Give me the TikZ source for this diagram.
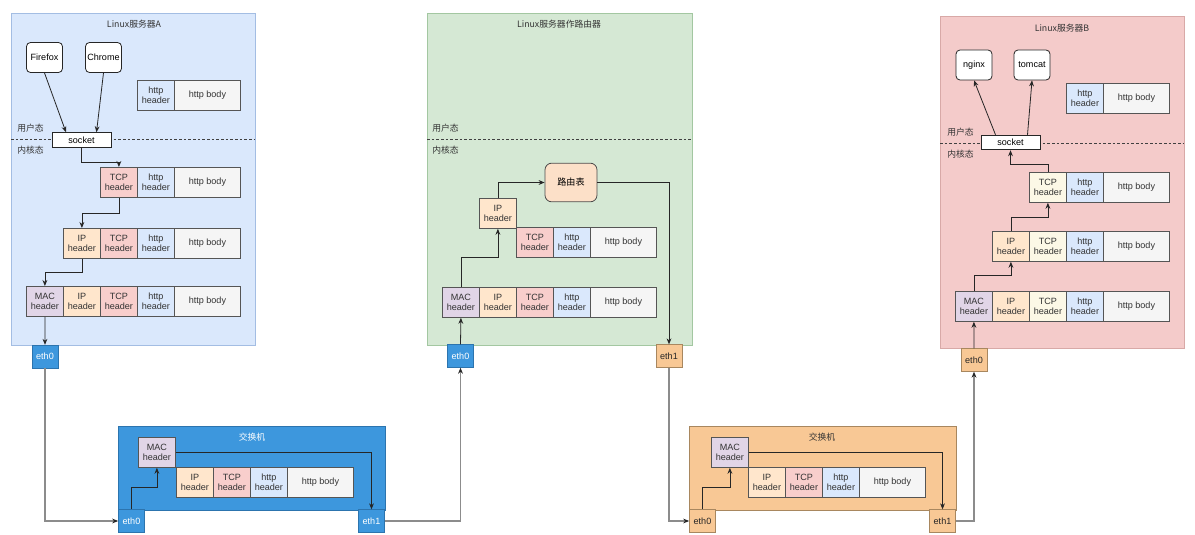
\documentclass[tikz,border=0pt]{standalone}
\usepackage{fontspec}
\setmainfont{Liberation Sans}
\newfontfamily\cjk{Noto Sans CJK SC}
\usetikzlibrary{arrows.meta,calc}
\definecolor{pA}{HTML}{DAE8FC}\definecolor{pAd}{HTML}{A3BDE3}
\definecolor{pR}{HTML}{D5E8D4}\definecolor{pRd}{HTML}{A3C7A1}
\definecolor{pB}{HTML}{F4CBCA}\definecolor{pBd}{HTML}{D8A9A7}
\definecolor{cTCP}{HTML}{F8CECC}\definecolor{cTCPb}{HTML}{FCF8E6}
\definecolor{cHH}{HTML}{DAE8FC}\definecolor{cBody}{HTML}{F5F5F5}
\definecolor{cIP}{HTML}{FFE6CC}\definecolor{cMAC}{HTML}{E1D5E7}
\definecolor{cRT}{HTML}{FCE0C8}
\definecolor{swB}{HTML}{3D97DD}\definecolor{swBd}{HTML}{2C74AE}
\definecolor{swO}{HTML}{F8C895}\definecolor{swOd}{HTML}{A8875F}
\definecolor{cgray}{HTML}{8C8C8C}\definecolor{cline}{HTML}{555555}
\tikzset{
  x=0.75pt, y=-0.75pt,
  cell/.style={draw=cline, line width=0.6pt, minimum height=22.5pt, inner sep=0pt, align=center, font=\fontsize{6.8}{7.6}\selectfont, text=black!80},
  hcell/.style={cell, minimum width=27.75pt, anchor=north west},
  bcell/.style={cell, minimum width=49.5pt, anchor=north west, fill=cBody},
  app/.style={draw=black!85, fill=white, rounded corners=3pt, line width=0.6pt, minimum width=27pt, minimum height=22.5pt, inner sep=0pt, font=\fontsize{6.8}{7.6}\selectfont},
  sockbox/.style={draw=black!85, fill=white, line width=0.6pt, minimum width=44.25pt, minimum height=11pt, inner sep=0pt, font=\fontsize{6.8}{7.6}\selectfont},
  portB/.style={draw=swBd, fill=swB, line width=0.5pt, minimum width=19.5pt, minimum height=17pt, inner sep=0pt, text=white, font=\fontsize{6.8}{7.6}\selectfont},
  portO/.style={draw=swOd, fill=swO, line width=0.5pt, minimum width=19.5pt, minimum height=17pt, inner sep=0pt, text=black!85, font=\fontsize{6.8}{7.6}\selectfont},
  arr/.style={draw=black!85, line width=0.6pt, -{Stealth[length=4.5pt,width=3.6pt]}},
  garr/.style={draw=cgray, line width=0.8pt, -{Stealth[length=4.5pt,width=3.6pt,color=black!85]}},
  lbl/.style={font=\cjk\fontsize{6.6}{7.5}\selectfont, anchor=west, inner sep=0pt, text=black!80},
  ttl/.style={font=\cjk\fontsize{6.6}{7.5}\selectfont, inner sep=0pt, text=black!80},
  dline/.style={draw=black!75, dashed, dash pattern=on 2pt off 1.5pt, line width=0.6pt}
}
\begin{document}
\begin{tikzpicture}
\useasboundingbox (0,0) rectangle (1195,535);
% ================= Server A =================
\draw[fill=pA, draw=pAd, line width=0.6pt] (11,13) rectangle (255,345);
\node[ttl] (tA) at (134,24) {Linux服务器A};
\draw[dline] (11,139) -- (255,139);
\node[lbl] (uA) at (17,128) {用户态};
\node[lbl] (kA) at (17,150) {内核态};
\node[app] (ff) at (44.5,57.5) {Firefox};
\node[app] (ch) at (103.5,57.5) {Chrome};
\node[hcell, fill=cHH] (hA0) at (137,80) {http\\header};
\node[bcell] (bA0) at (174,80) {http body};
\node[sockbox] (sockA) at (81.5,140) {socket};
% row 1
\node[hcell, fill=cTCP] (tcpA1) at (100,167) {TCP\\header};
\node[hcell, fill=cHH] (hA1) at (137,167) {http\\header};
\node[bcell] (bA1) at (174,167) {http body};
% row 2
\node[hcell, fill=cIP] (ipA2) at (63,228) {IP\\header};
\node[hcell, fill=cTCP] (tcpA2) at (100,228) {TCP\\header};
\node[hcell, fill=cHH] (hA2) at (137,228) {http\\header};
\node[bcell] (bA2) at (174,228) {http body};
% row 3
\node[hcell, fill=cMAC] (macA3) at (26,286) {MAC\\header};
\node[hcell, fill=cIP] (ipA3) at (63,286) {IP\\header};
\node[hcell, fill=cTCP] (tcpA3) at (100,286) {TCP\\header};
\node[hcell, fill=cHH] (hA3) at (137,286) {http\\header};
\node[bcell] (bA3) at (174,286) {http body};
\node[portB] (eA0) at (45,356.5) {eth0};
\draw[arr] (ff.south) -- ($(sockA.north)+(-15.5,0)$);
\draw[arr] (ch.south) -- ($(sockA.north)+(15,0)$);
\draw[arr] (sockA.south) -- ++(0,15) -| (tcpA1.north);
\draw[arr] (tcpA1.south) -- ++(0,16) -| (ipA2.north);
\draw[arr] (ipA2.south) -- ++(0,14) -| (macA3.north);
\draw[arr] (macA3.south) -- (eA0.north);
% ================= Switch 1 =================
\draw[fill=swB, draw=swBd, line width=0.6pt] (118,426) rectangle (385,510);
\node[ttl, text=white] (tS1) at (252,437) {交换机};
\node[portB] (s1e0) at (131.5,521) {eth0};
\node[portB] (s1e1) at (371.5,521) {eth1};
\node[hcell, fill=cMAC] (s1mac) at (138,437) {MAC\\header};
\node[hcell, fill=cIP] (s1ip) at (176,467) {IP\\header};
\node[hcell, fill=cTCP] (s1tcp) at (213,467) {TCP\\header};
\node[hcell, fill=cHH] (s1hh) at (250,467) {http\\header};
\node[bcell] (s1b) at (287,467) {http body};
\draw[arr] (s1e0.north) -- ++(0,-22) -| (s1mac.south);
\draw[arr] (s1mac.east) -| (s1e1.north);
\draw[garr] (eA0.south) |- (s1e0.west);
% ================= Router =================
\draw[fill=pR, draw=pRd, line width=0.6pt] (427,13) rectangle (692,345);
\node[ttl] (tR) at (559,24) {Linux服务器作路由器};
\draw[dline] (427,139) -- (692,139);
\node[lbl] (uR) at (432,128) {用户态};
\node[lbl] (kR) at (432,150) {内核态};
\node[draw=black!70, fill=cRT, rounded corners=5pt, line width=0.6pt, minimum width=39pt, minimum height=29pt, inner sep=0pt, font=\cjk\fontsize{6.8}{7.6}\selectfont] (rt) at (571,182.5) {路由表};
\node[hcell, fill=cIP] (rip) at (479,198) {IP\\header};
\node[hcell, fill=cTCP] (rtcp1) at (516,227) {TCP\\header};
\node[hcell, fill=cHH] (rhh1) at (553,227) {http\\header};
\node[bcell] (rb1) at (590,227) {http body};
\node[hcell, fill=cMAC] (rmac) at (442,287) {MAC\\header};
\node[hcell, fill=cIP] (rip2) at (479,287) {IP\\header};
\node[hcell, fill=cTCP] (rtcp2) at (516,287) {TCP\\header};
\node[hcell, fill=cHH] (rhh2) at (553,287) {http\\header};
\node[bcell] (rb2) at (590,287) {http body};
\node[portB] (r0) at (460.5,356) {eth0};
\node[portO] (r1) at (669,356) {eth1};
\draw[arr] (r0.north) -- (rmac.south);
\draw[arr] (rmac.north) -- ++(0,-30) -| (rip.south);
\draw[arr] (rip.north) |- (rt.west);
\draw[arr] (rt.east) -| (r1.north);
\draw[garr] (s1e1.east) -| (r0.south);
% ================= Switch 2 =================
\draw[fill=swO, draw=swOd, line width=0.6pt] (689,426) rectangle (956,510);
\node[ttl] (tS2) at (822,437) {交换机};
\node[portO] (s2e0) at (702.5,521) {eth0};
\node[portO] (s2e1) at (942.5,521) {eth1};
\node[hcell, fill=cMAC] (s2mac) at (711,437) {MAC\\header};
\node[hcell, fill=cIP] (s2ip) at (748,467) {IP\\header};
\node[hcell, fill=cTCP] (s2tcp) at (785,467) {TCP\\header};
\node[hcell, fill=cHH] (s2hh) at (822,467) {http\\header};
\node[bcell] (s2b) at (859,467) {http body};
\draw[arr] (s2e0.north) -- ++(0,-22) -| (s2mac.south);
\draw[arr] (s2mac.east) -| (s2e1.north);
\draw[garr] (r1.south) |- (s2e0.west);
% ================= Server B =================
\draw[fill=pB, draw=pBd, line width=0.6pt] (940,16) rectangle (1184,348);
\node[ttl] (tB) at (1062,28) {Linux服务器B};
\draw[dline] (940,143) -- (1184,143);
\node[lbl] (uB) at (947,132) {用户态};
\node[lbl] (kB) at (947,154) {内核态};
\node[app] (ng) at (974,65) {nginx};
\node[app] (tc) at (1032,65) {tomcat};
\node[hcell, fill=cHH] (hB0) at (1066,83) {http\\header};
\node[bcell] (bB0) at (1103,83) {http body};
\node[sockbox] (sockB) at (1010.5,142.5) {socket};
\node[hcell, fill=cTCPb] (btcp) at (1029,172) {TCP\\header};
\node[hcell, fill=cHH] (bhh1) at (1066,172) {http\\header};
\node[bcell] (bb1) at (1103,172) {http body};
\node[hcell, fill=cIP] (bip) at (992,231) {IP\\header};
\node[hcell, fill=cTCPb] (btcp2) at (1029,231) {TCP\\header};
\node[hcell, fill=cHH] (bhh2) at (1066,231) {http\\header};
\node[bcell] (bb2) at (1103,231) {http body};
\node[hcell, fill=cMAC] (bmac) at (955,291) {MAC\\header};
\node[hcell, fill=cIP] (bip3) at (992,291) {IP\\header};
\node[hcell, fill=cTCPb] (btcp3) at (1029,291) {TCP\\header};
\node[hcell, fill=cHH] (bhh3) at (1066,291) {http\\header};
\node[bcell] (bb3) at (1103,291) {http body};
\node[portO] (b0) at (974,360) {eth0};
\draw[arr] (b0.north) -- (bmac.south);
\draw[arr] (bmac.north) -- ++(0,-16) -| (bip.south);
\draw[arr] (bip.north) -- ++(0,-14) -| (btcp.south);
\draw[arr] (btcp.north) -- ++(0,-8) -| (sockB.south);
\draw[arr] ($(sockB.north)+(-15,0)$) -- (ng.south);
\draw[arr] ($(sockB.north)+(17,0)$) -- (tc.south);
\draw[garr] (s2e1.east) -| (b0.south);
\end{tikzpicture}
\end{document}
